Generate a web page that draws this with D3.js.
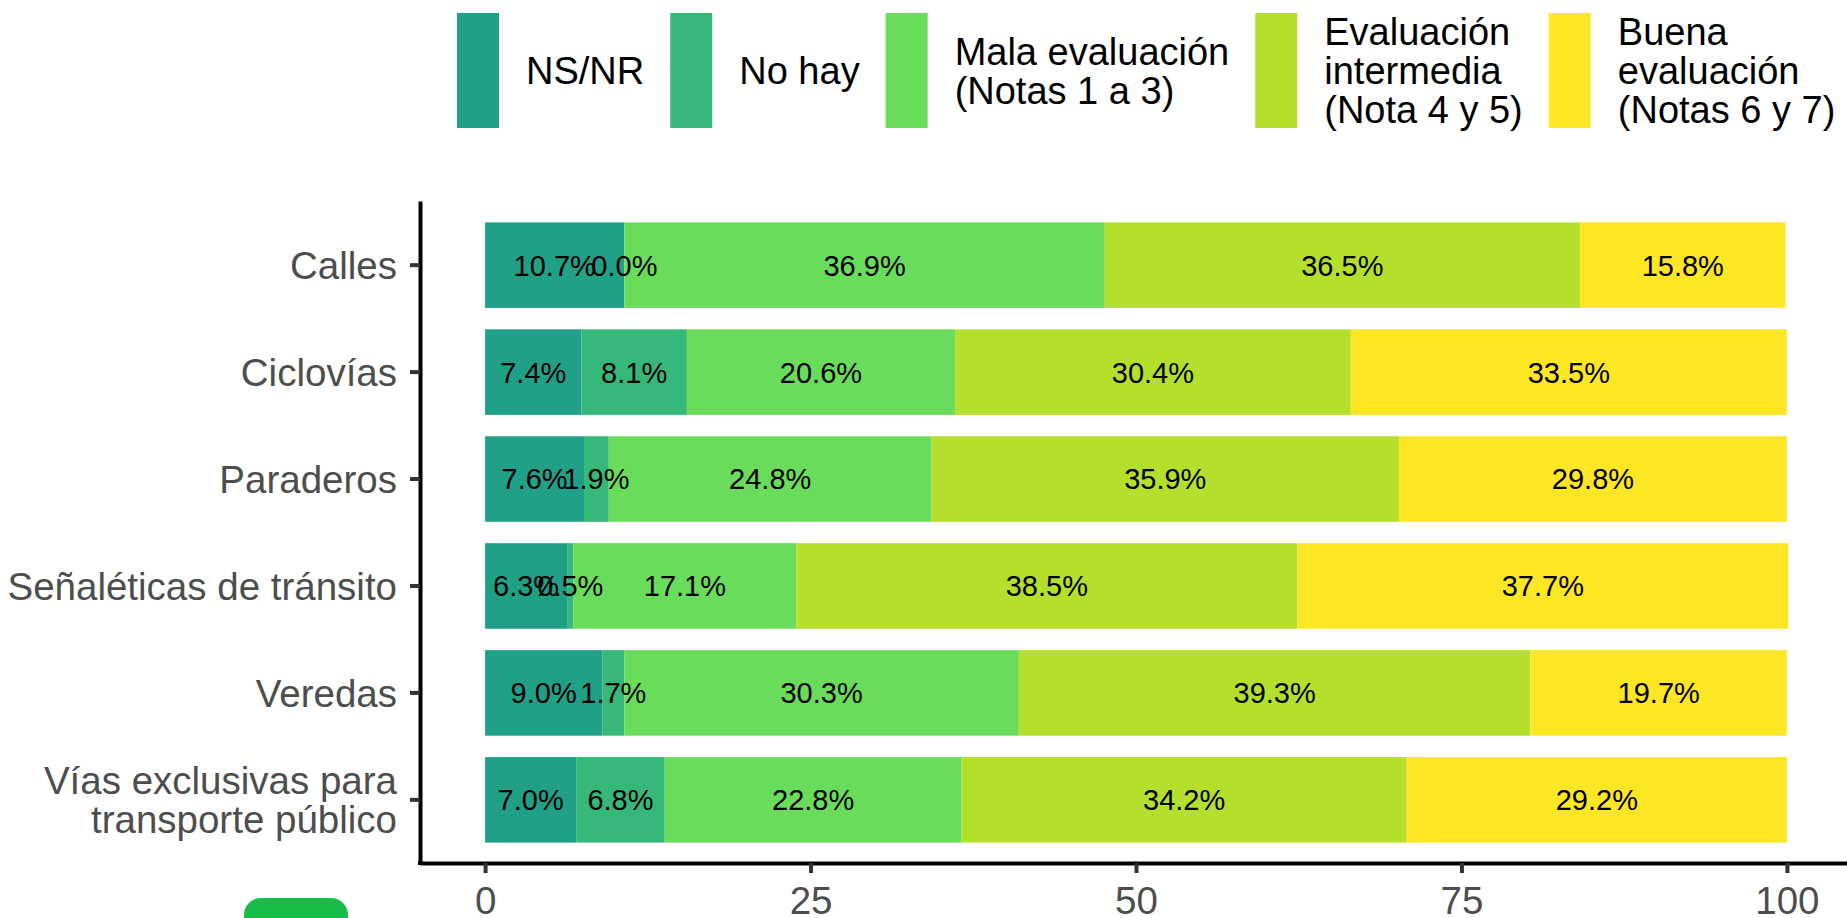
<!DOCTYPE html>
<html>
<head>
<meta charset="utf-8">
<script src="https://cdn.jsdelivr.net/npm/d3@7"></script>
<style>
  body { margin: 0; background: #fff; }
  svg { display: block; font-family: "Liberation Sans", Arial, Helvetica, sans-serif; }
</style>
</head>
<body>
<div id="chart"></div>
<script>
// data
var categories = ["Calles", "Ciclovías", "Paraderos", "Señaléticas de tránsito", "Veredas", "Vías exclusivas para\ntransporte público"];
var seriesNames = ["NS/NR", "No hay", "Mala evaluación\n(Notas 1 a 3)", "Evaluación\nintermedia\n(Nota 4 y 5)", "Buena\nevaluación\n(Notas 6 y 7)"];
var nsnr       = [10.7, 7.4, 7.6, 6.3, 9.0, 7.0];
var noHay      = [0.0, 8.1, 1.9, 0.5, 1.7, 6.8];
var mala       = [36.9, 20.6, 24.8, 17.1, 30.3, 22.8];
var intermedia = [36.5, 30.4, 35.9, 38.5, 39.3, 34.2];
var buena      = [15.8, 33.5, 29.8, 37.7, 19.7, 29.2];
var xTicks = [0, 25, 50, 75, 100];

var colors = ["#20A087", "#36B87A", "#6ADC5B", "#B4DF2D", "#FDE624"];

var W = 1847, H = 918;
var axisFont = 38.5, legendFont = 38, labelFont = 29;
var lineGap = 39;

var svg = d3.select("#chart").append("svg")
    .attr("width", W)
    .attr("height", H);

// build rows for the stack
var keys = ["k0", "k1", "k2", "k3", "k4"];
var cols = [nsnr, noHay, mala, intermedia, buena];
var rows = categories.map(function (c, i) {
    var r = { cat: c };
    keys.forEach(function (k, j) { r[k] = cols[j][i]; });
    return r;
});
var stacked = d3.stack().keys(keys)(rows);

var x = d3.scaleLinear().domain([-5, 105]).range([420, 1852]);
var y = d3.scaleBand().domain(categories).range([201, 864])
    .paddingInner(0.2).paddingOuter(0.2);

// bars
var layer = svg.selectAll("g.layer")
    .data(stacked)
    .enter().append("g")
    .attr("class", "layer")
    .attr("fill", function (d, i) { return colors[i]; });

layer.selectAll("rect")
    .data(function (d) { return d; })
    .enter().append("rect")
    .attr("x", function (d) { return x(d[0]); })
    .attr("width", function (d) { return x(d[1]) - x(d[0]); })
    .attr("y", function (d) { return y(d.data.cat); })
    .attr("height", y.bandwidth());

// value labels, centred in each segment
stacked.forEach(function (s, i) {
    svg.append("g").selectAll("text")
        .data(s)
        .enter().append("text")
        .attr("x", function (d) { return x((d[0] + d[1]) / 2); })
        .attr("y", function (d) { return y(d.data.cat) + y.bandwidth() / 2; })
        .attr("dy", "0.36em")
        .attr("text-anchor", "middle")
        .attr("font-size", labelFont)
        .attr("fill", "#000")
        .text(function (d) { return (d[1] - d[0]).toFixed(1) + "%"; });
});

// y axis
var yAxis = svg.append("g")
    .attr("transform", "translate(420,0)")
    .call(d3.axisLeft(y).tickSizeInner(10).tickSizeOuter(0).tickPadding(13));

// x axis
var xAxis = svg.append("g")
    .attr("transform", "translate(0,863)")
    .call(d3.axisBottom(x).tickValues(xTicks).tickSizeInner(10).tickSizeOuter(0).tickPadding(14));

[yAxis, xAxis].forEach(function (ax) {
    ax.select(".domain").attr("stroke", "#000").attr("stroke-width", 4);
    ax.selectAll(".tick line").attr("stroke", "#333").attr("stroke-width", 4);
    ax.selectAll(".tick text")
        .attr("fill", "#4D4D4D")
        .attr("font-size", axisFont)
        .attr("font-family", "Liberation Sans, Arial, Helvetica, sans-serif");
});

// multi-line y labels
yAxis.selectAll(".tick text").each(function (d) {
    var t = d3.select(this);
    var lines = d.split("\n");
    var xx = t.attr("x");
    t.text(null).attr("dy", null);
    lines.forEach(function (ln, i) {
        t.append("tspan")
            .attr("x", xx)
            .attr("y", (i - (lines.length - 1) / 2) * lineGap)
            .attr("dy", "0.36em")
            .text(ln);
    });
});

// close the corner of the two axis lines
svg.append("rect")
    .attr("x", 418).attr("y", 861)
    .attr("width", 4).attr("height", 4)
    .attr("fill", "#000");

// legend on top
var lx = 457, keyW = 42, keyTop = 13, keyH = 115, keyMid = keyTop + keyH / 2;
seriesNames.forEach(function (name, i) {
    var g = svg.append("g");
    g.append("rect")
        .attr("x", lx).attr("y", keyTop)
        .attr("width", keyW).attr("height", keyH)
        .attr("fill", colors[i]);
    var lines = name.split("\n");
    var tx = lx + keyW + 27;
    var txt = g.append("text")
        .attr("font-size", legendFont)
        .attr("fill", "#000");
    var maxW = 0;
    lines.forEach(function (ln, j) {
        var ts = txt.append("tspan")
            .attr("x", tx)
            .attr("y", keyMid + (j - (lines.length - 1) / 2) * lineGap)
            .attr("dy", "0.36em")
            .text(ln);
        maxW = Math.max(maxW, ts.node().getComputedTextLength());
    });
    lx = tx + maxW + 26;
});

// partial green badge at the bottom-left edge
svg.append("rect")
    .attr("x", 244).attr("y", 898)
    .attr("width", 104).attr("height", 50)
    .attr("rx", 17)
    .attr("fill", "#16BE48");
</script>
</body>
</html>
